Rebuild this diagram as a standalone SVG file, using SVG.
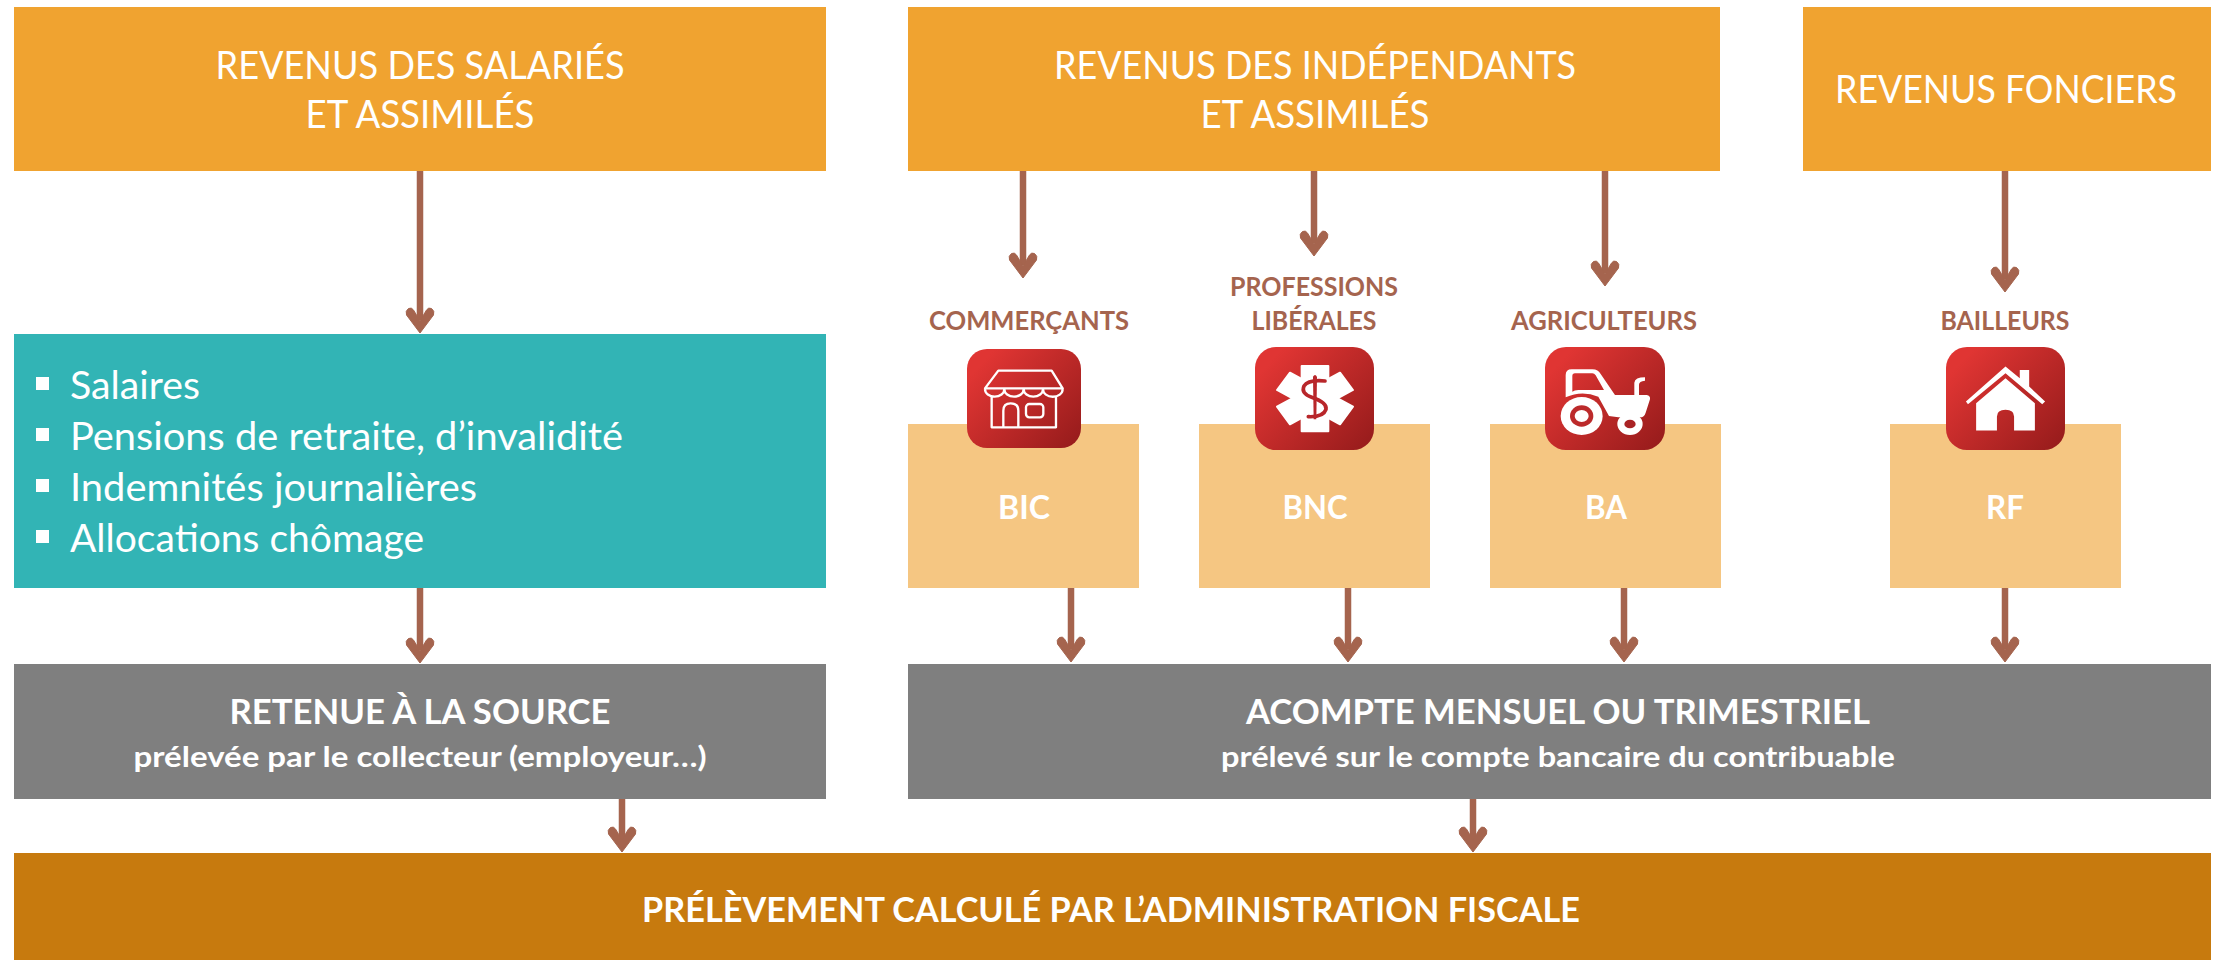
<svg xmlns="http://www.w3.org/2000/svg" width="2218" height="960" viewBox="0 0 2218 960">
<style>
text{font-family:Lato,"Open Sans","Liberation Sans",sans-serif;fill:#fff;text-anchor:middle}
.h{font-size:38px}
.b{font-weight:700}
.l{font-size:39px;text-anchor:start}
.s{font-size:26px;font-weight:700;fill:#A5644E}
.c{fill:#A5644E;stroke:#A5644E;stroke-width:1}
.arrow{stroke:#A5644E;stroke-width:6.500;fill:none}
.or{fill:#F0A330}.pe{fill:#F5C682}.gr{fill:#7F7F7F}
.ic{fill:url(#red)}
.w{fill:none;stroke:#fff;stroke-width:7}
</style>
<defs>
<linearGradient id="red" x1="0" y1="0.1" x2="1" y2="0.9"><stop offset="0.1" stop-color="#E03533"/><stop offset="1" stop-color="#981C1C"/></linearGradient>
<path id="ah" class="c" d="M0 -1L-13.500 -19Q-15 -23 -11.500 -25.500Q-8.500 -27 -6.500 -24L0 -13L6.500 -24Q8.500 -27 11.500 -25.500Q15 -23 13.500 -19Z"/>
</defs>
<rect width="2218" height="960" fill="#fff"/>
<g id="n-salaries"><rect class="or" x="14" y="7" width="812" height="164"/><text class="h" x="420" y="79" textLength="409" lengthAdjust="spacingAndGlyphs">REVENUS DES SALARIÉS</text><text class="h" x="420" y="128" textLength="229" lengthAdjust="spacingAndGlyphs">ET ASSIMILÉS</text></g>
<g id="n-independants"><rect class="or" x="908" y="7" width="812" height="164"/><text class="h" x="1315" y="79" textLength="522" lengthAdjust="spacingAndGlyphs">REVENUS DES INDÉPENDANTS</text><text class="h" x="1315" y="128" textLength="229" lengthAdjust="spacingAndGlyphs">ET ASSIMILÉS</text></g>
<g id="n-fonciers"><rect class="or" x="1803" y="7" width="408" height="164"/><text class="h" x="2006" y="103" textLength="342" lengthAdjust="spacingAndGlyphs">REVENUS FONCIERS</text></g>
<g id="n-liste"><rect fill="#32B4B5" x="14" y="334" width="812" height="254"/>
<g fill="#fff"><rect x="36" y="377" width="13" height="13"/><rect x="36" y="428" width="13" height="13"/><rect x="36" y="479" width="13" height="13"/><rect x="36" y="530" width="13" height="13"/></g>
<text class="l" x="70" y="399" textLength="130" lengthAdjust="spacingAndGlyphs">Salaires</text>
<text class="l" x="70" y="450" textLength="553" lengthAdjust="spacingAndGlyphs">Pensions de retraite, d’invalidité</text>
<text class="l" x="70" y="501" textLength="407" lengthAdjust="spacingAndGlyphs">Indemnités journalières</text>
<text class="l" x="70" y="552" textLength="354" lengthAdjust="spacingAndGlyphs">Allocations chômage</text></g>
<g id="n-bic"><rect class="pe" x="908" y="424" width="231" height="164"/><text class="b" font-size="33" x="1024" y="519" textLength="52" lengthAdjust="spacingAndGlyphs">BIC</text><text class="s" x="1029" y="330" textLength="200" lengthAdjust="spacingAndGlyphs">COMMERÇANTS</text>
<rect class="ic" x="967" y="349" width="114" height="99" rx="20"/>
<g transform="translate(950 340) scale(.3333)"><path class="w" stroke-linejoin="round" d="M145 92H305L338 145H105ZM105 148A29 22 0 0 0 163 148A29 22 0 0 0 221 148A29 22 0 0 0 279 148A29 22 0 0 0 338 148M125 168V262H318V168M160 262V212Q160 190 182 190Q205 190 205 212V262"/><rect class="w" x="228" y="192" width="52" height="40" rx="10"/></g></g>
<g id="n-bnc"><rect class="pe" x="1199" y="424" width="231" height="164"/><text class="b" font-size="33" x="1315" y="519" textLength="65" lengthAdjust="spacingAndGlyphs">BNC</text><text class="s" x="1314" y="296" textLength="168" lengthAdjust="spacingAndGlyphs">PROFESSIONS</text><text class="s" x="1314" y="330" textLength="125" lengthAdjust="spacingAndGlyphs">LIBÉRALES</text>
<rect class="ic" x="1255" y="347" width="119" height="103" rx="21"/>
<g transform="translate(1240 340) scale(.3333)"><g fill="#fff" stroke="#fff" stroke-width="6" stroke-linejoin="round"><path d="M185 78H265V274H185Z"/><path d="M150 98L111 150L300 253L339 200Z"/><path d="M300 98L339 150L150 253L111 200Z"/></g><path fill="none" stroke="#B8262A" stroke-width="11" stroke-linecap="round" d="M255 123Q205 118 192 138Q182 160 215 172Q262 188 258 208Q250 232 205 230"/><path fill="#B8262A" d="M219 110Q225 100 231 110L229 238H221Z"/></g></g>
<g id="n-ba"><rect class="pe" x="1490" y="424" width="231" height="164"/><text class="b" font-size="33" x="1606" y="519" textLength="42" lengthAdjust="spacingAndGlyphs">BA</text><text class="s" x="1604" y="330" textLength="186" lengthAdjust="spacingAndGlyphs">AGRICULTEURS</text>
<rect class="ic" x="1545" y="347" width="120" height="103" rx="21"/>
<g transform="translate(1535 340) scale(.3333)"><path fill="#fff" fill-rule="evenodd" d="M92 170V105Q92 88 110 88H172Q190 88 197 102L240 165H298V128Q300 112 330 112V122Q312 124 312 134V165H335Q347 167 345 178L332 218Q328 232 315 232H250L222 228L190 170Q140 150 92 172ZM112 155V108Q112 100 120 100H172Q178 100 182 106L207 150H130Q118 150 112 155Z"/><ellipse cx="140" cy="228" rx="63" ry="57" fill="#fff"/><ellipse cx="140" cy="228" rx="35" ry="32" fill="#BC2A2B"/><ellipse cx="140" cy="228" rx="21" ry="18" fill="#fff"/><ellipse cx="285" cy="252" rx="38" ry="33" fill="#fff"/><ellipse cx="285" cy="252" rx="17" ry="13" fill="#A92324"/></g></g>
<g id="n-rf"><rect class="pe" x="1890" y="424" width="231" height="164"/><text class="b" font-size="33" x="2005" y="519" textLength="38" lengthAdjust="spacingAndGlyphs">RF</text><text class="s" x="2005" y="330" textLength="129" lengthAdjust="spacingAndGlyphs">BAILLEURS</text>
<rect class="ic" x="1946" y="347" width="119" height="103" rx="21"/>
<g transform="translate(1480 260) scale(.408 .333)"><path fill="#fff" d="M1196 433L1191 425L1288 320L1323 355V330H1346V380L1385 425L1378 433L1288 340ZM1216 430L1288 355L1360 430V512H1309V470Q1309 450 1288 450Q1267 450 1267 470V512H1216Z"/></g></g>
<g id="n-retenue"><rect class="gr" x="14" y="664" width="812" height="135"/><text class="b" font-size="34" x="420" y="724" textLength="381" lengthAdjust="spacingAndGlyphs">RETENUE À LA SOURCE</text><text class="b" font-size="29" x="420" y="767" textLength="573" lengthAdjust="spacingAndGlyphs">prélevée par le collecteur (employeur…)</text></g>
<g id="n-acompte"><rect class="gr" x="908" y="664" width="1303" height="135"/><text class="b" font-size="34" x="1558" y="724" textLength="624" lengthAdjust="spacingAndGlyphs">ACOMPTE MENSUEL OU TRIMESTRIEL</text><text class="b" font-size="29" x="1558" y="767" textLength="674" lengthAdjust="spacingAndGlyphs">prélevé sur le compte bancaire du contribuable</text></g>
<g id="n-prelevement"><rect fill="#C77A0E" x="14" y="853" width="2197" height="107"/><text class="b" font-size="35" x="1111" y="922" textLength="938" lengthAdjust="spacingAndGlyphs">PRÉLÈVEMENT CALCULÉ PAR L’ADMINISTRATION FISCALE</text></g>
<g id="connectors">
<path class="arrow" d="M420 171V320M1023 171V265M1314 171V243M1605 171V273M2005 171V279M420 588V650M1071 588V649M1348 588V649M1624 588V649M2005 588V649M622 799V840M1473 799V840"/>
<use href="#ah" x="420" y="334"/><use href="#ah" x="1023" y="279"/><use href="#ah" x="1314" y="257"/><use href="#ah" x="1605" y="287"/><use href="#ah" x="2005" y="293"/><use href="#ah" x="420" y="664"/><use href="#ah" x="1071" y="663"/><use href="#ah" x="1348" y="663"/><use href="#ah" x="1624" y="663"/><use href="#ah" x="2005" y="663"/><use href="#ah" x="622" y="853"/><use href="#ah" x="1473" y="853"/>
</g>
</svg>
